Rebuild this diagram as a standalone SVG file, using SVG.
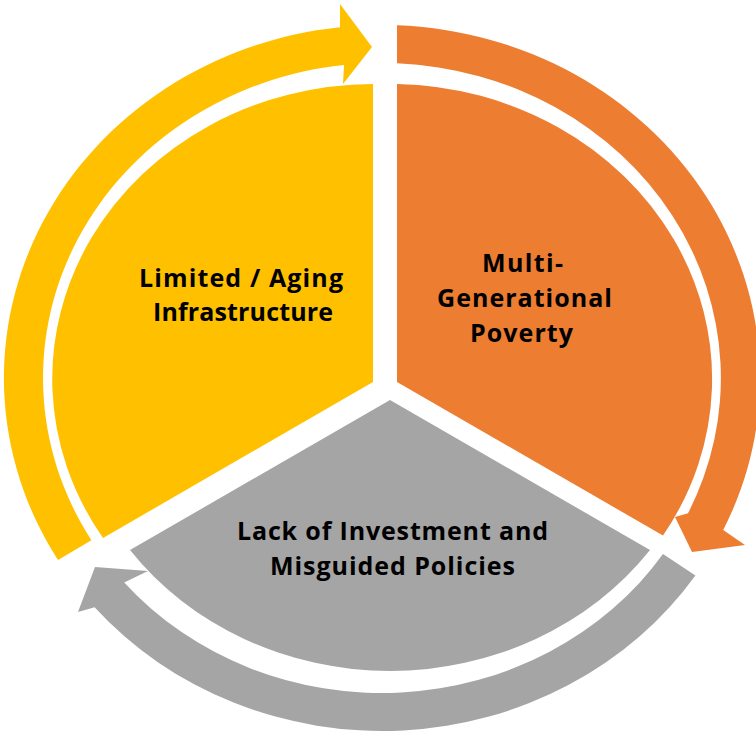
<svg xmlns="http://www.w3.org/2000/svg" width="756" height="732" viewBox="0 0 756 732">
  <style>
    .lbl { font-family: "Open Sans", "Liberation Sans", sans-serif; font-weight: 700; font-size: 25px; fill: #000000; text-anchor: middle; }
    .yellow { fill: #FFC000; }
    .orange { fill: #ED7D31; }
    .gray { fill: #A5A5A5; }
  </style>
  <rect width="756" height="732" fill="#FFFFFF"/>
  <g id="connectors">
    <path id="arrow-yellow" class="yellow" d="M58,560 A378,353 0 0 1 340,27.2 L340,4 L372,47 L343,84 L344,65 A339,315 0 0 0 91.4,540.2 Z"/>
    <path id="arrow-orange" class="orange" d="M397,25.3 A378,353 0 0 1 723.2,530 L745,545 L692,552 L675,517 L688,513.3 A339,315 0 0 0 397,63.3 Z"/>
    <path id="arrow-gray" class="gray" d="M695.4,575.4 A378,353 0 0 1 94.6,607.2 L78,612 L95,567 L148,571 L124.2,582.6 A339,315 0 0 0 663,554.1 Z"/>
  </g>
  <g id="node-infrastructure">
    <path class="yellow" d="M373,382 L373,84 A322,295 0 0 0 103,538 Z"/>
    <text class="lbl" x="241" y="287" textLength="204">Limited / Aging</text>
    <text class="lbl" x="243" y="321" textLength="180">Infrastructure</text>
  </g>
  <g id="node-poverty">
    <path class="orange" d="M397,382 L397,84 A322,295 0 0 1 663,535.5 Z"/>
    <text class="lbl" x="522.5" y="272" textLength="81">Multi-</text>
    <text class="lbl" x="524.5" y="307" textLength="175">Generational</text>
    <text class="lbl" x="521.5" y="342" textLength="103">Poverty</text>
  </g>
  <g id="node-investment">
    <path class="gray" d="M390,400 L650,550 A322,295 0 0 1 130,550 Z"/>
    <text class="lbl" x="392.5" y="540" textLength="311">Lack of Investment and</text>
    <text class="lbl" x="392.5" y="575" textLength="245">Misguided Policies</text>
  </g>
</svg>
